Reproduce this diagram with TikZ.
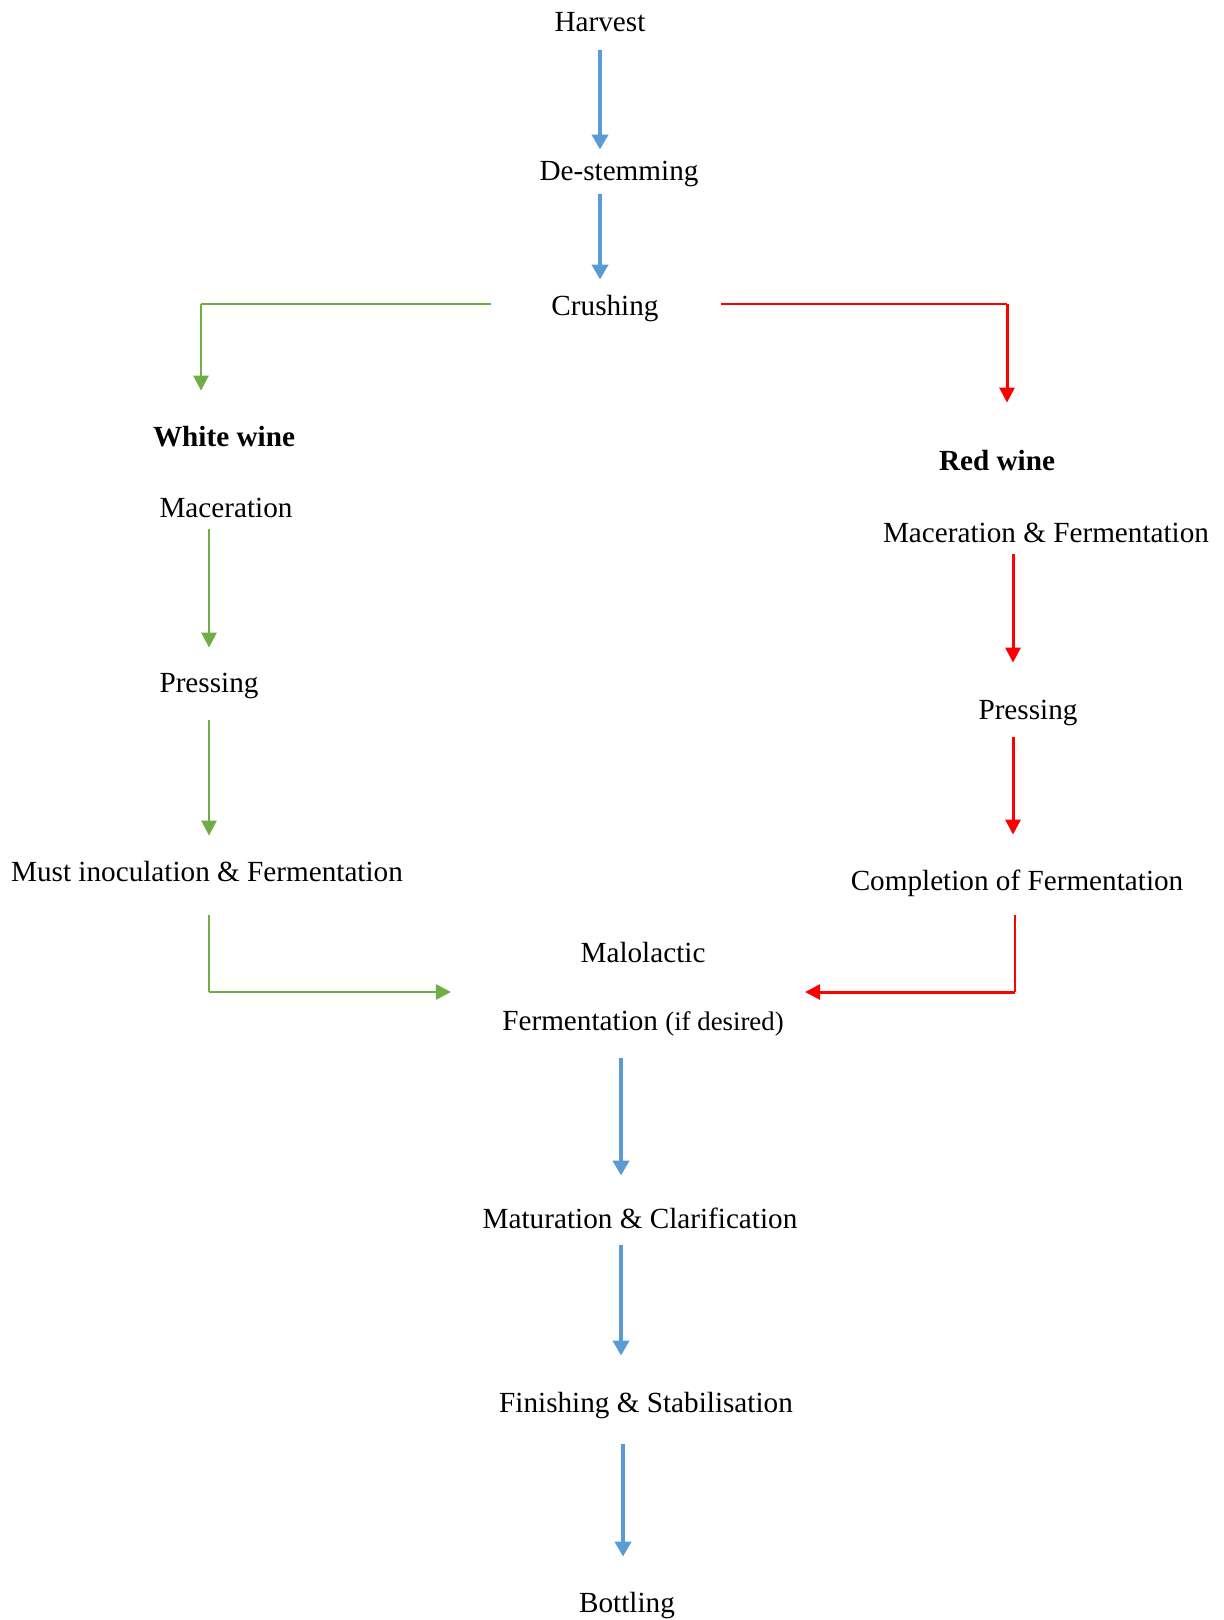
\documentclass[tikz,border=0pt]{standalone}
\usepackage{fontspec}
\setmainfont{Liberation Serif}
\usetikzlibrary{arrows.meta,calc}
\definecolor{wblue}{HTML}{5B9BD5}
\definecolor{wgreen}{HTML}{70AD47}
\definecolor{wred}{HTML}{FF0000}
\begin{document}
\begin{tikzpicture}[x=0.5pt,y=-0.5pt,
 lbl/.style={font=\fontsize{14.6}{17}\selectfont, inner sep=0pt, text height=11.5pt, text depth=1.5pt},
 tip/.style={-{Triangle[width=7.5pt,length=7.5pt]}},
 bluarr/.style={draw=wblue, line width=2pt, -{Triangle[width=8pt,length=7.5pt]}},
 gthin/.style={draw=wgreen, line width=0.6pt},
 gthick/.style={draw=wgreen, line width=1.3pt, tip},
 rthin/.style={draw=wred, line width=0.8pt},
 rthick/.style={draw=wred, line width=1.5pt, tip},
]
\useasboundingbox (0,0) rectangle (1223,1620);

% nodes
\node[lbl] (harvest) at (600,22) {Harvest};
\node[lbl] (destem) at (619,171) {De-stemming};
\node[lbl] (crush) at (605,306) {Crushing};
\node[lbl,font=\fontsize{14.6}{17}\selectfont\bfseries] (white) at (224,436) {White wine};
\node[lbl] (macW) at (226,507) {Maceration};
\node[lbl] (pressW) at (209,682) {Pressing};
\node[lbl] (must) at (207,871) {Must inoculation \& Fermentation};
\node[lbl,font=\fontsize{14.6}{17}\selectfont\bfseries] (red) at (997,460) {Red wine};
\node[lbl] (macR) at (1046,532) {Maceration \& Fermentation};
\node[lbl] (pressR) at (1028,709) {Pressing};
\node[lbl] (compl) at (1017,880) {Completion of Fermentation};
\node[lbl] (malo) at (643,952) {Malolactic};
\node[lbl] (ferm) at (643,1020) {Fermentation {\fontsize{13.4}{16}\selectfont (if desired)}};
\node[lbl] (mat) at (640,1218) {Maturation \& Clarification};
\node[lbl] (fin) at (646,1402) {Finishing \& Stabilisation};
\node[lbl] (bott) at (627,1602) {Bottling};

% helper coordinates
\coordinate (gc1) at (201,304);
\coordinate (rc1) at (1007,304);
\coordinate (rx) at (1013,0);
\coordinate (gc2) at (209,992);
\coordinate (rc2) at (1015,992);
\coordinate (bx) at (621,0);
\coordinate (bx2) at (623,0);

% top blue arrows
\draw[bluarr, shorten <=7.5pt, shorten >=4pt] (harvest.south) -- (destem.north -| harvest);
\draw[bluarr, shorten <=5pt, shorten >=6.5pt] (destem.south -| harvest) -- (crush.north -| harvest);

% green branch
\draw[gthin] ([xshift=-30pt]crush.west |- gc1) -- (gc1);
\draw[gthick, shorten >=16pt] (gc1) -- (white.north -| gc1);
\draw[gthick, shorten <=4.5pt, shorten >=10.5pt] (macW.south -| pressW) -- (pressW.north);
\draw[gthick, shorten <=12.5pt, shorten >=11pt] (pressW.south) -- (must.north -| pressW);
\draw[gthin, shorten <=15.5pt] (must.south -| gc2) -- (gc2);
\draw[gthick, shorten >=25.5pt] (gc2) -- (ferm.west |- gc2);

% red branch
\draw[rthin] ([xshift=31pt]crush.east |- rc1) -- (rc1);
\draw[rthick, shorten >=22pt] (rc1) -- (red.north -| rc1);
\draw[rthick, shorten <=4.5pt, shorten >=16.5pt] (macR.south -| rx) -- (pressR.north -| rx);
\draw[rthick, shorten <=7.5pt, shorten >=16pt] (pressR.south -| rx) -- (compl.north -| rx);
\draw[rthin, shorten <=11pt] (compl.south -| rc2) -- (rc2);
\draw[rthick, shorten >=10.5pt] (rc2) -- (ferm.east |- rc2);

% bottom blue arrows
\draw[bluarr, shorten <=12.5pt, shorten >=14.5pt] (ferm.south -| bx) -- (mat.north -| bx);
\draw[bluarr, shorten <=7pt, shorten >=16.5pt] (mat.south -| bx) -- (fin.north -| bx);
\draw[bluarr, shorten <=14.5pt, shorten >=16pt] (fin.south -| bx2) -- (bott.north -| bx2);
\end{tikzpicture}
\end{document}
